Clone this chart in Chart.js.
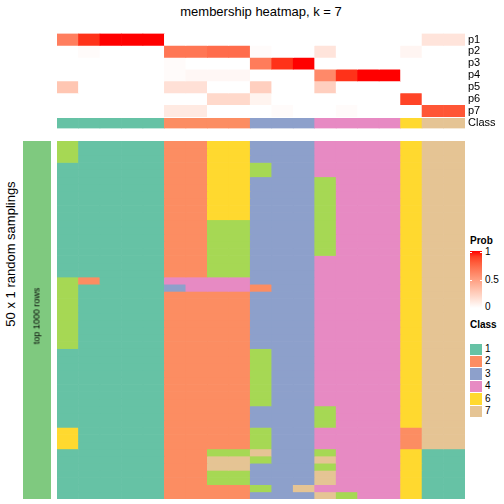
<!DOCTYPE html>
<html>
<head>
<meta charset="utf-8">
<script src="https://cdn.jsdelivr.net/npm/chart.js@4.4.1/dist/chart.umd.min.js"></script>
<style>
  body { margin: 0; background: #fff; font-family: "Liberation Sans", Arial, sans-serif; }
  #wrap { position: relative; width: 504px; height: 504px; overflow: hidden; }
  .abs { position: absolute; }
  canvas { position: absolute; }
  .txt { position: absolute; white-space: nowrap; color: #000; line-height: 1; }
  .rot { transform: translate(-50%, -50%) rotate(-90deg); }
</style>
</head>
<body>
<div id="wrap">
  <div class="txt" style="left:261px; top:11px; font-size:13px; transform:translate(-50%,-50%)">membership heatmap, k = 7</div>
  <div class="txt rot" style="left:10px; top:254px; font-size:13px">50 x 1 random samplings</div>

  <canvas id="top" width="447" height="114" style="left:57px; top:24px; width:447px; height:114px"></canvas>
  <canvas id="side" width="28" height="358" style="left:23px; top:141px; width:28px; height:358px"></canvas>
  <canvas id="main" width="408" height="358" style="left:57px; top:141px; width:408px; height:358px"></canvas>

  <div class="txt rot" style="left:37px; top:316px; font-size:9px">top 1000 rows</div>

  <div id="legend"></div>
</div>

<script>
// membership probabilities per column (19 samplings columns), rows p1..p7
const colClass = [1, 1, 1, 1, 1, 2, 2, 2, 2, 3, 3, 3, 4, 4, 4, 4, 6, 7, 7]
const probLabels = ["p1", "p2", "p3", "p4", "p5", "p6", "p7"]
const p1 = [0.65, 0.93, 1, 1, 1, 0, 0, 0, 0, 0, 0, 0, 0, 0, 0, 0, 0, 0.14, 0.14]
const p2 = [0, 0.02, 0, 0, 0, 0.69, 0.69, 0.73, 0.73, 0.02, 0, 0, 0.14, 0, 0, 0, 0.05, 0, 0]
const p3 = [0, 0, 0, 0, 0, 0.02, 0, 0, 0, 0.66, 0.93, 1, 0, 0, 0, 0, 0, 0, 0]
const p4 = [0, 0, 0, 0, 0, 0.02, 0.04, 0.04, 0.04, 0, 0, 0, 0.6, 0.93, 1, 1, 0, 0, 0]
const p5 = [0.3, 0, 0, 0, 0, 0.16, 0.16, 0, 0, 0.25, 0, 0, 0.25, 0, 0, 0, 0, 0, 0]
const p6 = [0, 0, 0, 0, 0, 0, 0, 0.2, 0.2, 0.06, 0, 0, 0, 0, 0, 0, 0.88, 0, 0]
const p7 = [0, 0, 0, 0, 0, 0.11, 0.11, 0, 0, 0, 0.02, 0, 0, 0.02, 0, 0, 0, 0.82, 0.82]

// class of each column in each of the 50 random samplings (one string per sampling)
const samplings = [
  "5111122663334444677", "5111122663334444677", "5111122663334444677",
  "1111122665334444677", "1111122665334444677",
  "1111122663335444677", "1111122663335444677", "1111122663335444677",
  "1111122663335444677", "1111122663335444677", "1111122663335444677",
  "1111122553335444677", "1111122553335444677", "1111122553335444677",
  "1111122553335444677", "1111122553335444677",
  "1111122553334444677", "1111122553334444677", "1111122553334444677",
  "5211144443334444677",
  "5111134442334444677",
  "5111122223334444677", "5111122223334444677", "5111122223334444677", "5111122223334444677",
  "5111122223334444677", "5111122223334444677", "5111122223334444677", "5111122223334444677",
  "1111122225334444677", "1111122225334444677", "1111122225334444677", "1111122225334444677",
  "1111122225334444677", "1111122225334444677", "1111122225334444677", "1111122225334444677",
  "1111122223335444677", "1111122223335444677", "1111122223335444677",
  "6111122225334444277", "6111122225334444277", "6111122225334444277",
  "1111122557335444611",
  "1111122775337444611",
  "1111122773335444611",
  "1111122553337444611", "1111122553337444611",
  "1111122225374444611",
  "1111122223337544611",
]

const legendClasses = [1, 2, 3, 4, 6, 7]
const probTicks = [1, 0.5, 0]
const classColors = {
  1: "#66C2A5", 2: "#FC8D62", 3: "#8DA0CB", 4: "#E78AC3",
  5: "#A6D854", 6: "#FFD92F", 7: "#E5C494",
}
const sideColor = "#7FC97F"
const FONT = "'Liberation Sans', Arial, sans-serif"

// white -> red in Lab space, like colorRamp2
function toLab(hex) {
  const c = [1, 3, 5].map(i => parseInt(hex.slice(i, i + 2), 16) / 255)
    .map(v => v <= 0.04045 ? v / 12.92 : Math.pow((v + 0.055) / 1.055, 2.4))
  const x = (0.4124 * c[0] + 0.3576 * c[1] + 0.1805 * c[2]) / 0.95047
  const y = 0.2126 * c[0] + 0.7152 * c[1] + 0.0722 * c[2]
  const z = (0.0193 * c[0] + 0.1192 * c[1] + 0.9505 * c[2]) / 1.08883
  const f = t => t > 0.008856 ? Math.cbrt(t) : 7.787 * t + 16 / 116
  return [116 * f(y) - 16, 500 * (f(x) - f(y)), 200 * (f(y) - f(z))]
}
function fromLab([L, a, b]) {
  const fy = (L + 16) / 116, fx = fy + a / 500, fz = fy - b / 200
  const g = t => t * t * t > 0.008856 ? t * t * t : (t - 16 / 116) / 7.787
  const x = g(fx) * 0.95047, y = g(fy), z = g(fz) * 1.08883
  const lin = [
    3.2406 * x - 1.5372 * y - 0.4986 * z,
    -0.9689 * x + 1.8758 * y + 0.0415 * z,
    0.0557 * x - 0.2040 * y + 1.0570 * z,
  ]
  const s = lin.map(v => {
    v = Math.min(1, Math.max(0, v))
    v = v <= 0.0031308 ? 12.92 * v : 1.055 * Math.pow(v, 1 / 2.4) - 0.055
    return Math.round(v * 255)
  })
  return `rgb(${s[0]},${s[1]},${s[2]})`
}
const labWhite = toLab("#FFFFFF"), labRed = toLab("#FF0000")
function probColor(t) {
  return fromLab(labWhite.map((w, i) => w + (labRed[i] - w) * t))
}

const columns = colClass.map((_, i) => "c" + (i + 1))
const barBase = {
  grouped: false,
  barPercentage: 1,
  categoryPercentage: 1,
  borderWidth: 0,
}
const baseOptions = {
  responsive: false,
  animation: false,
  devicePixelRatio: 1,
  layout: { padding: 0 },
  plugins: { legend: { display: false }, tooltip: { enabled: false } },
}

// top: membership probabilities + class row
const topRows = [...probLabels, "Class"]
const probs = [p1, p2, p3, p4, p5, p6, p7]
const classGap = 0.14 // white gap above the class row
const topDatasets = probs.map((row, r) => ({
  ...barBase,
  data: row.map(() => [r, r + 1]),
  backgroundColor: row.map(probColor),
}))
topDatasets.push({
  ...barBase,
  data: colClass.map(() => [probs.length + classGap, probs.length + 1]),
  backgroundColor: colClass.map(c => classColors[c]),
})

new Chart(document.getElementById("top"), {
  type: "bar",
  data: { labels: columns, datasets: topDatasets },
  options: {
    ...baseOptions,
    scales: {
      x: { display: false, offset: true },
      y: {
        type: "linear",
        position: "right",
        reverse: true,
        min: 0,
        max: topRows.length,
        grid: { display: false, drawTicks: false },
        border: { display: false },
        afterBuildTicks: (axis) => { axis.ticks = topRows.map((_, i) => ({ value: i + 0.5 })) },
        afterFit: (axis) => { axis.width = 39 },
        ticks: {
          autoSkip: false,
          padding: 3,
          color: "#000",
          font: { size: 11, family: FONT },
          callback: (v, i) => topRows[i],
        },
      },
    },
  },
})

// main: class of every column in each sampling
const mainDatasets = samplings.map((row, r) => ({
  ...barBase,
  data: columns.map(() => [r, r + 1]),
  backgroundColor: row.split("").map(c => classColors[c]),
}))

new Chart(document.getElementById("main"), {
  type: "bar",
  data: { labels: columns, datasets: mainDatasets },
  options: {
    ...baseOptions,
    scales: {
      x: { display: false, offset: true },
      y: { display: false, reverse: true, min: 0, max: samplings.length },
    },
  },
})

// left annotation block
new Chart(document.getElementById("side"), {
  type: "bar",
  data: {
    labels: ["top 1000 rows"],
    datasets: [{ ...barBase, data: [[0, 1]], backgroundColor: sideColor }],
  },
  options: {
    ...baseOptions,
    scales: {
      x: { display: false, offset: true },
      y: { display: false, min: 0, max: 1 },
    },
  },
})

// legends
const legend = document.getElementById("legend")
function addText(text, x, y, size, bold) {
  const d = document.createElement("div")
  d.className = "txt"
  d.textContent = text
  d.style.left = x + "px"
  d.style.top = y + "px"
  d.style.fontSize = size + "px"
  d.style.transform = "translateY(-50%)"
  if (bold) d.style.fontWeight = "bold"
  legend.appendChild(d)
}
function addBox(x, y, w, h, bg) {
  const d = document.createElement("div")
  d.className = "abs"
  Object.assign(d.style, { left: x + "px", top: y + "px", width: w + "px", height: h + "px", background: bg })
  legend.appendChild(d)
}

addText("Prob", 470, 241, 10, true)
const stops = []
for (let i = 0; i <= 10; i++) stops.push(probColor(1 - i / 10) + " " + i * 10 + "%")
addBox(470, 251, 12, 57, "linear-gradient(to bottom, " + stops.join(",") + ")")
probTicks.forEach(t => {
  const y = 252 + (1 - t) * 55
  addText(String(t), 485, y, 10, false)
  if (t > 0) {
    addBox(470, y, 2, 1, "#fff")
    addBox(480, y, 2, 1, "#fff")
  }
})

addText("Class", 470, 325, 10, true)
legendClasses.forEach((c, i) => {
  const y = 343 + i * 12.4
  addBox(470, y + 0.5, 11.5, 11.5, classColors[c])
  addText(String(c), 485, y + 6, 10, false)
})
</script>
</body>
</html>
